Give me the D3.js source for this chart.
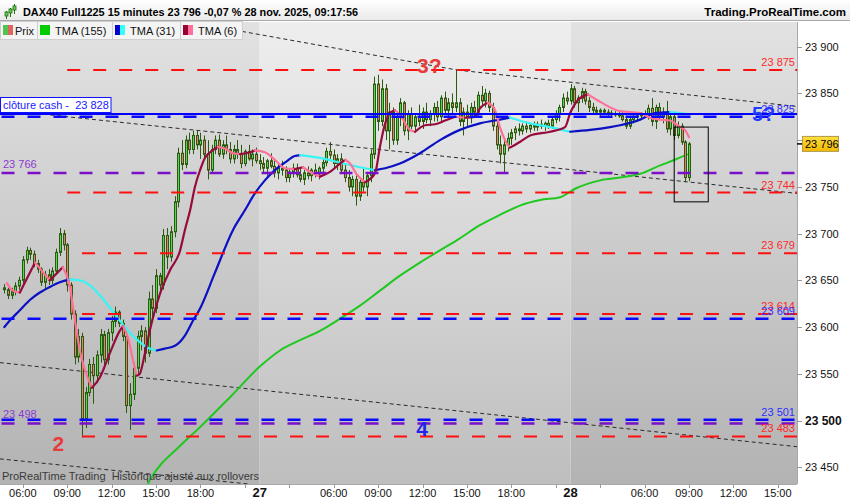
<!DOCTYPE html>
<html><head><meta charset="utf-8">
<script src="https://cdn.jsdelivr.net/npm/d3@7"></script>
<style>body{margin:0;background:#fff;}svg{display:block;font-family:"Liberation Sans",Arial,sans-serif;}</style>
</head><body><svg id="c" width="850" height="500"></svg>
<script>
// ---------- DATA (15-minute bars, index 0 = 26 nov 04:45) ----------
const opens = [23642,23640,23634,23638,23644,23650,23672,23682,23678,23668,23662,23648,23656,23650,23660,23680,23700,23688,23645,23614,23568,23590,23502,23530,23560,23548,23570,23592,23565,23594,23606,23616,23604,23590,23516,23528,23556,23590,23596,23572,23630,23620,23655,23645,23698,23675,23702,23734,23786,23774,23800,23790,23805,23795,23800,23785,23768,23790,23800,23785,23795,23790,23780,23790,23785,23775,23788,23780,23785,
23778,23775,23770,23778,23772,23765,23770,23768,23760,23766,23770,23763,23758,23765,23762,23768,23764,23770,23776,23788,23784,23775,23780,23768,23760,23750,23758,23740,23755,23750,23762,23785,23860,23820,23855,23810,23830,23800,23825,23840,23810,23828,23815,23825,23820,23830,23822,23828,23835,23825,23845,23832,23840,23835,23840,23820,23830,23825,23835,23830,23848,23842,23850,23835,23815,23795,23785,23795,23802,23808,23812,23810,23815,23812,23816,23814,23817,23815,23818,23815,23822,23828,23835,23845,
23842,23855,23840,23845,23852,23842,23835,23832,23830,23832,23830,23829,23828,23827,23826,23822,23815,23822,23825,23826,23828,23826,23834,23820,23835,23825,23830,23812,23825,23805,23815,23798,23760];
const highs = [23646,23642,23642,23648,23654,23676,23686,23685,23682,23672,23664,23660,23662,23664,23684,23706,23704,23690,23648,23618,23598,23594,23536,23566,23568,23575,23598,23596,23598,23612,23622,23618,23608,23594,23540,23562,23596,23602,23600,23638,23645,23662,23658,23705,23706,23708,23740,23792,23800,23805,23808,23810,23810,23808,23805,23800,23795,23805,23806,23800,23805,23798,23795,23800,23795,23790,23795,23790,23792,
23785,23782,23780,23786,23778,23775,23778,23772,23770,23775,23775,23770,23768,23772,23770,23775,23772,23780,23792,23798,23790,23785,23786,23775,23768,23762,23765,23760,23770,23765,23790,23868,23870,23865,23860,23840,23835,23830,23845,23842,23832,23835,23828,23838,23835,23840,23832,23840,23842,23848,23852,23845,23850,23876,23845,23835,23838,23840,23842,23852,23858,23855,23853,23840,23822,23805,23800,23808,23812,23815,23818,23818,23820,23818,23820,23820,23822,23820,23822,23825,23832,23838,23850,23852,
23860,23858,23848,23856,23855,23846,23840,23836,23834,23834,23833,23832,23831,23830,23830,23826,23825,23828,23830,23830,23832,23838,23845,23838,23840,23835,23842,23830,23828,23820,23818,23800,23798];
const lows = [23636,23630,23630,23634,23640,23646,23668,23672,23664,23658,23644,23640,23645,23646,23656,23676,23682,23638,23608,23560,23562,23482,23492,23526,23518,23540,23562,23555,23560,23585,23600,23600,23585,23508,23490,23522,23550,23575,23562,23568,23608,23615,23636,23640,23662,23670,23696,23728,23768,23770,23785,23785,23790,23780,23780,23758,23765,23785,23782,23780,23785,23775,23775,23780,23770,23772,23778,23772,23775,
23768,23765,23762,23770,23760,23758,23762,23755,23755,23760,23760,23755,23752,23758,23756,23760,23758,23765,23772,23780,23770,23768,23765,23755,23745,23740,23730,23735,23745,23740,23755,23780,23810,23815,23800,23790,23795,23795,23815,23805,23800,23812,23808,23815,23812,23818,23815,23820,23820,23820,23828,23825,23828,23830,23815,23805,23815,23818,23825,23826,23838,23835,23830,23810,23790,23775,23766,23788,23795,23800,23805,23806,23808,23808,23810,23810,23812,23810,23812,23812,23818,23820,23830,23838,
23838,23835,23830,23840,23838,23830,23828,23828,23826,23828,23826,23826,23825,23824,23820,23812,23812,23818,23820,23822,23824,23822,23815,23812,23822,23818,23808,23805,23800,23802,23795,23755,23756];
const closes = [23640,23634,23638,23644,23650,23672,23682,23678,23668,23662,23648,23656,23650,23660,23680,23700,23688,23645,23614,23568,23590,23502,23530,23560,23548,23570,23592,23565,23594,23606,23616,23604,23590,23516,23528,23556,23590,23596,23572,23630,23620,23655,23645,23698,23675,23702,23734,23786,23774,23800,23790,23805,23795,23800,23785,23768,23790,23800,23785,23795,23790,23780,23790,23785,23775,23788,23780,23785,23778,
23775,23770,23778,23772,23765,23770,23768,23760,23766,23770,23763,23758,23765,23762,23768,23764,23770,23776,23788,23784,23775,23780,23768,23760,23750,23758,23740,23755,23750,23762,23785,23860,23820,23855,23810,23830,23800,23825,23840,23810,23828,23815,23825,23820,23830,23822,23828,23835,23825,23845,23832,23840,23835,23840,23820,23830,23825,23835,23830,23848,23842,23850,23835,23815,23795,23785,23795,23802,23808,23812,23810,23815,23812,23816,23814,23817,23815,23818,23815,23822,23828,23835,23845,23842,
23855,23840,23845,23852,23842,23835,23832,23830,23832,23830,23829,23828,23827,23826,23822,23815,23822,23825,23826,23828,23826,23834,23820,23835,23825,23830,23812,23825,23805,23815,23798,23760,23796];

// Moving averages (bar index, value)
const tma6Idx = [0.7,2.3,4.2,8.3,12.3,15.8,17.7,19.1,20.4,21.8,23.7,25.8,28.5,31.2,32.1,33.4,34.8,35.8,36.6,38,39.3,42.1,44.8,47.5,48.8,50.2,51.5,52.9,54.2,55.6,57.7,59.6,61.8,63.7,66.4,67.7,70.4,73.1,75.8,78.5,80.7,82.6,85.3,88,90.7,92.1,93.4,95.3,97.5,100.2,101.5,102.9,104.2,105.6,106.9,109.6,111,113.7,116.4,119.1,121.8,124.5,127.2,128.5,130.7,132.6,133.9,135.3,136.6,139.3,142.1,147.5,151.5,152.9,155,157.7,161,166.4,171.8,174.5,177.2,179.9,181.2,182.6,183.9,185];
const tma6Val = [23647,23639,23637,23669,23650,23664,23643,23607,23575,23554,23535,23546,23572,23596,23601,23589,23564,23548,23550,23572,23596,23636,23661,23682,23704,23725,23750,23768,23781,23787,23793,23791,23786,23785,23787,23789,23787,23779,23770,23769,23771,23766,23761,23766,23775,23779,23775,23763,23755,23765,23793,23818,23829,23832,23827,23811,23809,23816,23817,23821,23825,23824,23825,23834,23840,23832,23814,23800,23792,23798,23805,23809,23814,23829,23843,23849,23841,23831,23829,23824,23822,23821,23818,23814,23811,23803];
const tma31Idx = [0,1.5,4.2,6.9,9.6,12.3,15,17.7,20.4,23.1,25.8,28.5,31.2,33.9,36.6,39.3,41.2,43.4,46.1,48.8,51,52.9,56.9,61.8,65,67.7,70.4,73.1,75.8,78.5,79.9,85.3,90.7,96.1,100.2,102.9,106.9,112.3,117.7,123.1,128.5,133.9,136.6,142.1,147.5,152.9,158.3,163.7,166.4,171.8,175.8,179.9,182.6,184.7];
const tma31Val = [23600,23607,23618,23629,23637,23643,23648,23651,23650,23645,23634,23621,23607,23594,23584,23577,23575,23577,23580,23591,23607,23620,23658,23704,23725,23743,23757,23768,23776,23783,23784,23781,23776,23771,23768,23770,23775,23786,23800,23811,23818,23822,23824,23818,23814,23809,23811,23814,23816,23822,23829,23830,23829,23828];
const tma155Idx = [38.5,39.3,47.5,52.9,61,69.1,74.5,79.9,85.3,90.7,96.1,101.5,106.9,112.3,117.7,123.1,128.5,133.9,139.3,144.8,150.2,154.2,161,166.4,171.8,177.2,181.2,184.7];
const tma155Val = [23430,23436,23473,23493,23525,23558,23575,23586,23596,23609,23623,23639,23655,23669,23682,23695,23709,23720,23730,23736,23739,23748,23757,23760,23764,23773,23779,23785];

// Horizontal levels
const redLevels = [23875,23744,23679,23614,23483];
const redStartIdx = [17,17,21,21,21];
const blueLevels = [23825,23609,23501];
const purpleLevels = [23766,23498];
const closeCash = 23828;

// Trend lines [idx0, val0, idx1, val1]
const trendLines = [[60.5,23919,122.4,23875],[122.4,23875,214.3,23836],[12.4,23827,214.3,23743],[-1.2,23562,214.3,23472],[-1.2,23459,66.4,23432]];
const boxIdx = [181,190.2], boxVal = [23814,23734];

// Axis ticks
const tickIdx =   [5,17,29,41,53,65,77,89,101,113,125,137,149,161,173,185,197,209];
const tickLabel = ["06:00","09:00","12:00","15:00","18:00","","","06:00","09:00","12:00","15:00","18:00","","","06:00","09:00","12:00","15:00"];
const dayIdx = [69,153], dayLabel = ["27","28"];
const priceTicks = [23450,23500,23550,23600,23650,23700,23750,23800,23850,23900];

// ---------- DRAWING ----------
const svg = d3.select("#c");
const plot = {l:0, r:797, t:22, b:484};
const x = d3.scaleLinear().domain([0,185]).range([4.3,689]);
const y = d3.scaleLinear().domain([23450,23900]).range([467.3,46.7]);
const fmt = v => d3.format(",")(v).replace(/,/g," ");
const defs = svg.append("defs");
function grad(id, top, bot, y1, y2){
  const g = defs.append("linearGradient").attr("id",id).attr("gradientUnits","userSpaceOnUse")
    .attr("x1",0).attr("y1",y1).attr("x2",0).attr("y2",y2);
  g.append("stop").attr("offset",0).attr("stop-color",top);
  g.append("stop").attr("offset",1).attr("stop-color",bot);
}
grad("bandA","#e2e2e2","#b3b3b3",plot.t,plot.b);
grad("bandB","#eeeeee","#bebebe",plot.t,plot.b);
grad("hdr","#ffffff","#e9e9e9",0,21);
grad("gold","#ffe040","#f2b800",136,152);
defs.append("clipPath").attr("id","clip").append("rect")
  .attr("x",plot.l).attr("y",plot.t).attr("width",plot.r-plot.l).attr("height",plot.b-plot.t);

svg.append("rect").attr("width",850).attr("height",500).attr("fill","#fff");

// day bands
const bounds = [plot.l, x(dayIdx[0]), x(dayIdx[1]), plot.r];
svg.append("g").selectAll("rect").data([0,1,2]).join("rect")
  .attr("x",d=>bounds[d]).attr("y",plot.t).attr("width",d=>bounds[d+1]-bounds[d]).attr("height",plot.b-plot.t)
  .attr("fill",d=>d===1?"url(#bandB)":"url(#bandA)");

const g = svg.append("g").attr("clip-path","url(#clip)");

// trend lines (dotted)
g.append("g").selectAll("line").data(trendLines).join("line")
  .attr("x1",d=>x(d[0])).attr("y1",d=>y(d[1])).attr("x2",d=>x(d[2])).attr("y2",d=>y(d[3]))
  .attr("stroke","#2a2a2a").attr("stroke-width",1).attr("stroke-dasharray","4,3");

// TMA 155
const lineGen = d3.line().x(d=>x(d[0])).y(d=>y(d[1])).curve(d3.curveMonotoneX);
g.append("path").attr("d",lineGen(tma155Idx.map((v,k)=>[v,tma155Val[k]])))
  .attr("fill","none").attr("stroke","#1fc81f").attr("stroke-width",2);

// candles
const bars = closes.map((c,i)=>({i,o:opens[i],h:highs[i],l:lows[i],c}));
const cg = g.append("g");
cg.selectAll("line").data(bars).join("line")
  .attr("x1",d=>Math.round(x(d.i))+0.5).attr("x2",d=>Math.round(x(d.i))+0.5)
  .attr("y1",d=>y(d.h)).attr("y2",d=>y(d.l)).attr("stroke","#2b5a10").attr("stroke-width",1);
cg.selectAll("rect").data(bars).join("rect")
  .attr("x",d=>Math.round(x(d.i))-0.5).attr("width",2)
  .attr("y",d=>y(Math.max(d.o,d.c))).attr("height",d=>Math.max(0.5,Math.abs(y(d.o)-y(d.c))))
  .attr("fill",d=>d.c>=d.o?"#52d852":"#e6806c").attr("stroke","#2b5a10").attr("stroke-width",1);

// colored MAs by direction
function runs(idx,val){
  const out=[]; let cur=null;
  for(let k=1;k<idx.length;k++){
    let up = val[k]===val[k-1] && cur ? cur.up : val[k]>val[k-1];
    if(!cur||cur.up!==up){cur={up,pts:[[idx[k-1],val[k-1]]]};out.push(cur);}
    cur.pts.push([idx[k],val[k]]);
  }
  return out;
}
function drawMA(idx,val,upC,downC,w){
  g.append("g").selectAll("path").data(runs(idx,val)).join("path")
    .attr("d",d=>lineGen(d.pts)).attr("fill","none").attr("stroke-width",w)
    .attr("stroke",d=>d.up?upC:downC).attr("stroke-linecap","round");
}
drawMA(tma31Idx,tma31Val,"#0a10c4","#38f4f4",2.2);
drawMA(tma6Idx,tma6Val,"#960a3c","#ff7098",2.2);

// horizontal levels
const lv = g.append("g");
lv.selectAll(".pl").data(purpleLevels).join("line").attr("class","pl")
  .attr("x1",plot.l).attr("x2",plot.r).attr("y1",d=>y(d)+1).attr("y2",d=>y(d)+1)
  .attr("stroke","#7a10c8").attr("stroke-width",2.5).attr("stroke-dasharray","13,13").attr("stroke-dashoffset",-1.5);
lv.append("line").attr("x1",plot.l).attr("x2",plot.r).attr("y1",y(closeCash)).attr("y2",y(closeCash))
  .attr("stroke","#0000ff").attr("stroke-width",2);
lv.selectAll(".bl").data(blueLevels).join("line").attr("class","bl")
  .attr("x1",plot.l).attr("x2",plot.r).attr("y1",d=>y(d)).attr("y2",d=>y(d))
  .attr("stroke","#0a0aff").attr("stroke-width",2.5).attr("stroke-dasharray","13,13").attr("stroke-dashoffset",-1.5);
lv.selectAll(".rl").data(redLevels).join("line").attr("class","rl")
  .attr("x1",(d,k)=>x(redStartIdx[k])).attr("x2",plot.r).attr("y1",d=>y(d)).attr("y2",d=>y(d))
  .attr("stroke","#ff1010").attr("stroke-width",2).attr("stroke-dasharray","13,13");

// box
g.append("rect").attr("x",x(boxIdx[0])).attr("y",y(boxVal[0])).attr("width",x(boxIdx[1])-x(boxIdx[0]))
  .attr("height",y(boxVal[1])-y(boxVal[0])).attr("fill","none").attr("stroke","#000").attr("stroke-width",1);

// annotations
const ann = g.append("g").attr("font-weight","bold").attr("font-size",21);
ann.append("text").attr("x",x(14.6)).attr("y",y(23467)).attr("text-anchor","middle").attr("fill","#e83a3a").text("2");
ann.append("text").attr("x",x(111.5)).attr("y",y(23872)).attr("fill","#e83a3a").text("3?");
ann.append("text").attr("x",x(111.3)).attr("y",y(23484)).attr("fill","#2323e6").text("4");
ann.append("text").attr("x",x(202)).attr("y",y(23820)).attr("fill","#1e3cff").attr("font-size",20).text("5?");

// level labels
const lab = g.append("g").attr("font-size",11);
lab.selectAll(".rt").data(redLevels).join("text").attr("class","rt")
  .attr("x",795).attr("y",d=>y(d)-4).attr("text-anchor","end").attr("fill","#ff2a2a").text(fmt);
lab.selectAll(".bt").data(blueLevels).join("text").attr("class","bt")
  .attr("x",795).attr("y",d=>y(d)-4).attr("text-anchor","end").attr("fill","#3030ff").text(fmt);
lab.selectAll(".pt").data(purpleLevels).join("text").attr("class","pt")
  .attr("x",3).attr("y",d=>y(d)-4).attr("fill","#8a3ad0").text(fmt);
// cloture cash box
const cc = g.append("g");
cc.append("rect").attr("x",0.5).attr("y",y(closeCash)-16.5).attr("width",110.5).attr("height",15)
  .attr("fill","#fff").attr("stroke","#1010ff").attr("stroke-width",1);
cc.append("text").attr("x",3).attr("y",y(closeCash)-5).attr("font-size",11).attr("fill","#1a1aff")
  .attr("xml:space","preserve").text("clôture cash -  " + fmt(closeCash));

// bottom caption
g.append("text").attr("x",2).attr("y",480).attr("font-size",11).attr("fill","#3a3a3a")
  .attr("xml:space","preserve").text("ProRealTime Trading  Historique ajusté aux rollovers");

// right axis
svg.append("rect").attr("x",plot.r).attr("y",plot.t).attr("width",850-plot.r).attr("height",500-plot.t).attr("fill","#fff");
svg.append("line").attr("x1",plot.r+0.5).attr("x2",plot.r+0.5).attr("y1",plot.t).attr("y2",plot.b).attr("stroke","#a8a8a8");
const ra = svg.append("g");
ra.selectAll("line").data(priceTicks).join("line").attr("x1",plot.r).attr("x2",plot.r+5)
  .attr("y1",d=>Math.round(y(d))+0.5).attr("y2",d=>Math.round(y(d))+0.5).attr("stroke","#999");
ra.selectAll("text").data(priceTicks).join("text").attr("x",plot.r+8).attr("y",d=>y(d)+4)
  .attr("font-size",d=>d===23500?12:11).attr("font-weight",d=>d===23500?"bold":"normal").attr("fill","#111").text(fmt);
// current price box
const last = closes[closes.length-1];
ra.append("line").attr("x1",plot.r).attr("x2",plot.r+6).attr("y1",y(last)).attr("y2",y(last)).attr("stroke","#000").attr("stroke-width",1.5);
ra.append("rect").attr("x",plot.r+5.5).attr("y",y(last)-7.5).attr("width",36).attr("height",15)
  .attr("fill","url(#gold)").attr("stroke","#b09a50");
ra.append("text").attr("x",plot.r+8).attr("y",y(last)+4).attr("font-size",11).attr("fill","#000").text(fmt(last));

// bottom axis
svg.append("rect").attr("x",0).attr("y",plot.b).attr("width",plot.r).attr("height",500-plot.b).attr("fill","#fff");
svg.append("line").attr("x1",0).attr("x2",plot.r).attr("y1",plot.b+0.5).attr("y2",plot.b+0.5).attr("stroke","#a8a8a8");
const ba = svg.append("g");
ba.selectAll("line").data(tickIdx).join("line").attr("x1",d=>Math.round(x(d))+0.5).attr("x2",d=>Math.round(x(d))+0.5)
  .attr("y1",plot.b).attr("y2",plot.b+4).attr("stroke","#999");
ba.selectAll(".tl").data(tickIdx).join("text").attr("class","tl").attr("x",d=>x(d)).attr("y",497)
  .attr("text-anchor","middle").attr("font-size",11).attr("fill","#111").text((d,k)=>tickLabel[k]);
ba.selectAll(".dl").data(dayIdx).join("text").attr("class","dl").attr("x",d=>x(d)).attr("y",497)
  .attr("text-anchor","middle").attr("font-size",13).attr("font-weight","bold").attr("fill","#111").text((d,k)=>dayLabel[k]);

// header
svg.append("rect").attr("x",0).attr("y",0).attr("width",850).attr("height",21).attr("fill","url(#hdr)");
svg.append("line").attr("x1",0).attr("x2",850).attr("y1",20.5).attr("y2",20.5).attr("stroke","#a9a9a9");
const ic = svg.append("g");
[[6,11,17,12,16],[10,8,15,9,13],[14,4,12,6,10]].forEach(c=>{
  ic.append("line").attr("x1",c[0]+0.5).attr("x2",c[0]+0.5).attr("y1",c[1]).attr("y2",c[2]+2).attr("stroke","#2b6a10");
  ic.append("rect").attr("x",c[0]-1).attr("y",c[3]).attr("width",3).attr("height",c[4]-c[3]).attr("fill","#5ad05a").attr("stroke","#2b6a10").attr("stroke-width",0.8);
});
svg.append("text").attr("x",23).attr("y",16).attr("font-size",11.5).attr("font-weight","bold").attr("fill","#000")
  .attr("textLength",335).attr("lengthAdjust","spacingAndGlyphs")
  .text("DAX40 Full1225 15 minutes 23 796 -0,07 % 28 nov. 2025, 09:17:56");
svg.append("text").attr("x",846).attr("y",16).attr("text-anchor","end").attr("font-size",11.5).attr("font-weight","bold").attr("fill","#000")
  .text("Trading.ProRealTime.com");

// legend buttons
const legend = [
  {t:"Prix", x0:0, x1:37, sw:["#52c452","#e06464"], tx:15},
  {t:"TMA (155)", x0:37, x1:112, sw:["#00cc00"], tx:55},
  {t:"TMA (31)", x0:112, x1:180, sw:["#0000cc","#33ffff"], tx:130},
  {t:"TMA (6)", x0:180, x1:242, sw:["#990033","#ff6f9a"], tx:198}
];
const lg = svg.append("g");
legend.forEach(b=>{
  lg.append("rect").attr("x",b.x0+0.5).attr("y",21.5).attr("width",b.x1-b.x0).attr("height",18).attr("fill","#f4f4f4").attr("stroke","#cfcfcf");
  const sw = 10/b.sw.length;
  b.sw.forEach((c,k)=>lg.append("rect").attr("x",b.x0+3+k*sw).attr("y",25).attr("width",sw).attr("height",10).attr("fill",c));
  lg.append("text").attr("x",b.tx).attr("y",35).attr("font-size",11).attr("fill","#111").text(b.t);
});
</script></body></html>
